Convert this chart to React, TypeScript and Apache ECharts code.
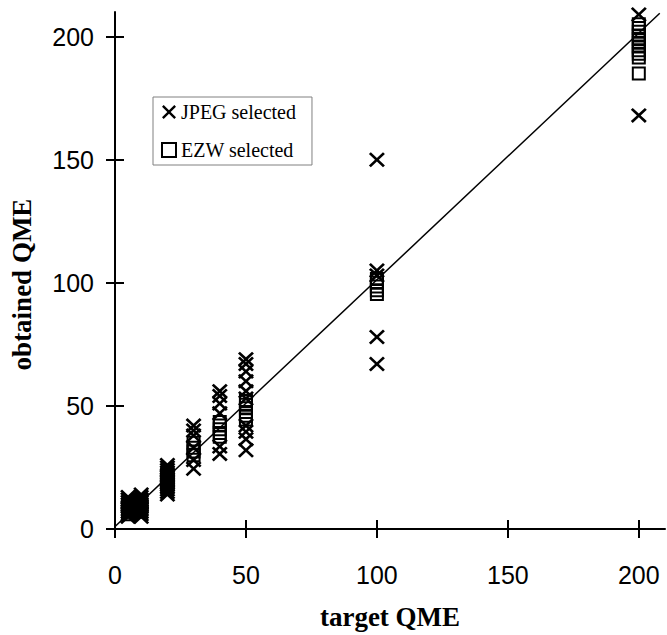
import React, { useEffect, useRef } from "react";
import * as echarts from "echarts";

const tickValues = [0, 50, 100, 150, 200];

const jpegSelected: [number, number][] = [
  [5, 5], [5, 6], [5, 7], [5, 8], [5, 9], [5, 10], [5, 11], [5, 12], [5, 13],
  [10, 5], [10, 6], [10, 7], [10, 8], [10, 9], [10, 10], [10, 11], [10, 12], [10, 13], [10, 14],
  [20, 14], [20, 15], [20, 16], [20, 17], [20, 18], [20, 19], [20, 20], [20, 21], [20, 22], [20, 23], [20, 24], [20, 25], [20, 26],
  [30, 24.5], [30, 28], [30, 33], [30, 38], [30, 40], [30, 42],
  [40, 30.5], [40, 33.5], [40, 47], [40, 51], [40, 54], [40, 56],
  [50, 32], [50, 36.5], [50, 39.5], [50, 42], [50, 53], [50, 56], [50, 60], [50, 64], [50, 67], [50, 69],
  [100, 67], [100, 78], [100, 103], [100, 105], [100, 150],
  [200, 168], [200, 209],
];

const ezwSelected: [number, number][] = [
  [5, 6], [5, 7], [5, 8], [5, 9], [5, 10],
  [10, 7], [10, 8], [10, 9], [10, 10], [10, 11],
  [20, 17], [20, 18], [20, 19], [20, 20], [20, 21], [20, 22], [20, 23],
  [30, 30], [30, 31.5], [30, 33], [30, 35],
  [40, 37.5], [40, 39], [40, 40.5], [40, 42], [40, 43.5],
  [50, 44.5], [50, 46], [50, 47.5], [50, 49], [50, 50.5], [50, 52],
  [100, 95.5], [100, 97], [100, 98.5], [100, 100], [100, 101.5],
  [200, 185], [200, 191.5], [200, 193], [200, 194.5], [200, 196], [200, 197.5], [200, 199], [200, 200.5], [200, 202], [200, 203.5], [200, 205],
];

const identityLine: [number, number][] = [
  [-5.5, -4.5],
  [208, 209.5],
];

const X_PATH =
  "path://M0,12 L12,0 L50,38 L88,0 L100,12 L62,50 L100,88 L88,100 L50,62 L12,100 L0,88 L38,50 Z";

const SANS = "'Liberation Sans', Arial, sans-serif";
const SERIF = "'Liberation Serif', 'Times New Roman', serif";

export default function App() {
  const ref = useRef<HTMLDivElement>(null);

  useEffect(() => {
    if (!ref.current) return;
    const chart = echarts.init(ref.current, undefined, { renderer: "svg" });

    const baseValueAxis = {
      type: "value" as const,
      min: 0,
      max: 210,
      interval: 50,
      splitLine: { show: false },
    };

    chart.setOption({
      animation: false,
      backgroundColor: "#ffffff",
      grid: { left: 113, top: 12, right: 2, bottom: 103, containLabel: false },
      legend: {
        orient: "vertical",
        left: 153,
        top: 97,
        padding: [5, 16, 5, 8],
        itemGap: 18,
        itemWidth: 14,
        itemHeight: 14,
        borderColor: "#808080",
        borderWidth: 1,
        backgroundColor: "#ffffff",
        textStyle: { fontFamily: SERIF, fontSize: 20, color: "#000", lineHeight: 20 },
        data: [
          { name: "JPEG selected", icon: X_PATH },
          { name: "EZW selected", icon: "rect" },
        ],
      },
      xAxis: [
        {
          ...baseValueAxis,
          position: "bottom",
          name: "target QME",
          nameLocation: "middle",
          nameGap: 74,
          nameTextStyle: { fontFamily: SERIF, fontSize: 27, fontWeight: "bold", color: "#000" },
          axisLine: { show: true, onZero: false, lineStyle: { color: "#000", width: 2 } },
          axisTick: { show: true, inside: false, length: 9, customValues: tickValues, lineStyle: { color: "#000", width: 2 } },
          axisLabel: { show: true, margin: 33, customValues: tickValues, fontFamily: SANS, fontSize: 25, color: "#000" },
        },
        {
          ...baseValueAxis,
          position: "bottom",
          axisLine: { show: false, onZero: false },
          axisTick: { show: true, inside: true, length: 9, customValues: tickValues, lineStyle: { color: "#000", width: 2 } },
          axisLabel: { show: false },
        },
      ],
      yAxis: [
        {
          ...baseValueAxis,
          position: "left",
          name: "obtained QME",
          nameLocation: "middle",
          nameGap: 80,
          nameTextStyle: {
            fontFamily: SERIF,
            fontSize: 27,
            fontWeight: "bold",
            color: "#000",
            padding: [0, 28, 0, 0],
          },
          axisLine: { show: true, onZero: false, lineStyle: { color: "#000", width: 2 } },
          axisTick: { show: true, inside: false, length: 9, customValues: tickValues, lineStyle: { color: "#000", width: 2 } },
          axisLabel: { show: true, margin: 21, customValues: tickValues, fontFamily: SANS, fontSize: 25, color: "#000" },
        },
        {
          ...baseValueAxis,
          position: "left",
          axisLine: { show: false, onZero: false },
          axisTick: { show: true, inside: true, length: 9, customValues: tickValues, lineStyle: { color: "#000", width: 2 } },
          axisLabel: { show: false },
        },
      ],
      series: [
        {
          name: "JPEG selected",
          type: "scatter",
          xAxisIndex: 0,
          yAxisIndex: 0,
          data: jpegSelected,
          symbol: X_PATH,
          symbolSize: [16, 15],
          itemStyle: { color: "#000", opacity: 1 },
          z: 2,
        },
        {
          name: "EZW selected",
          type: "scatter",
          xAxisIndex: 0,
          yAxisIndex: 0,
          data: ezwSelected,
          symbol: "rect",
          symbolSize: 12,
          itemStyle: { color: "rgba(255,255,255,0)", borderColor: "#000", borderWidth: 2, opacity: 1 },
          z: 3,
        },
        {
          name: "identity",
          type: "line",
          xAxisIndex: 0,
          yAxisIndex: 0,
          data: identityLine,
          clip: false,
          showSymbol: false,
          symbol: "none",
          lineStyle: { color: "#000", width: 1.5 },
          z: 4,
          silent: true,
        },
      ],
    });

    return () => chart.dispose();
  }, []);

  return (
    <div
      ref={ref}
      style={{ position: "absolute", left: 0, top: 0, width: 667, height: 635 }}
    />
  );
}
